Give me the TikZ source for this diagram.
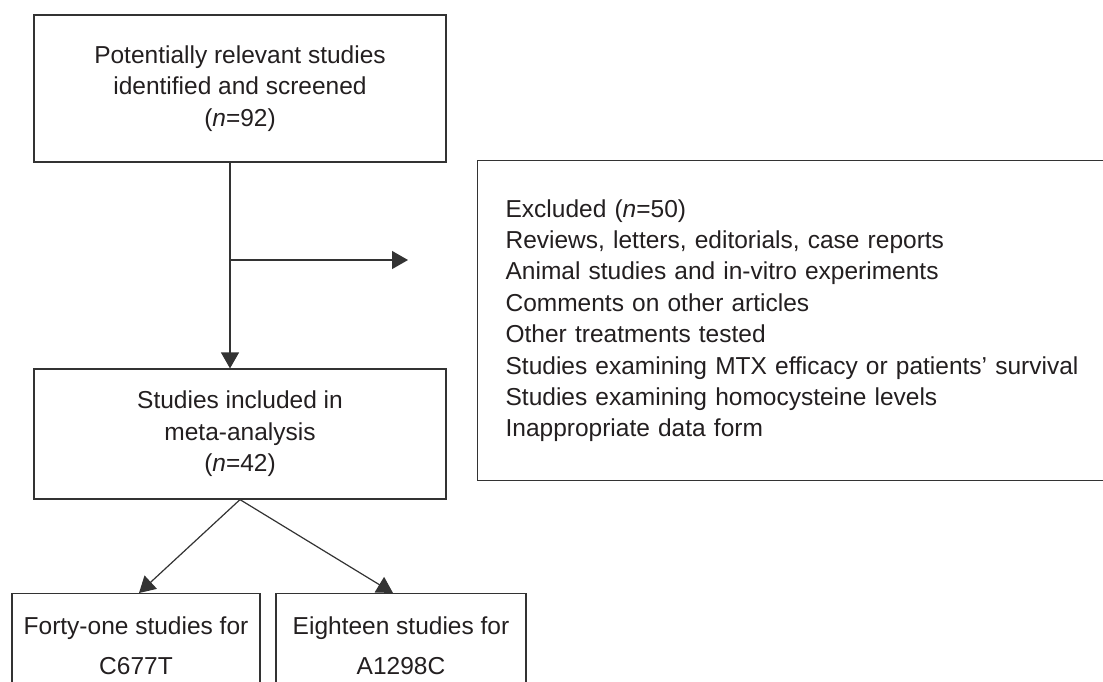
\documentclass[tikz,border=0pt]{standalone}
\usepackage{fontspec}
\setmainfont{Liberation Sans}
\usetikzlibrary{arrows.meta}
\definecolor{ink}{HTML}{231F20}
\definecolor{linec}{HTML}{333333}
\begin{document}
\begin{tikzpicture}[x=0.5pt,y=-0.5pt,
  box/.style={draw=linec, line width=0.6pt, text=ink, align=center,
    font=\fontsize{12.25pt}{15.7pt}\selectfont, inner sep=0pt},
  arr/.style={draw=linec, line width=0.6pt, -{Triangle[length=8pt,width=9pt]}}]
\clip (0,0) rectangle (1103,681);
\fill[white] (0,0) rectangle (1103,681);
% top box
\node[box, minimum width=206pt, minimum height=73.5pt] (top) at (240,88.5)
  {Potentially relevant studies\\identified and screened\\(\textit{n}=92)};
% excluded box (right border lies beyond the picture)
\node[box, align=left, anchor=north west, text width=300pt, inner xsep=14pt,
  minimum height=160pt] (excl) at (477,160)
  {Excluded (\textit{n}=50)\\
   Reviews, letters, editorials, case reports\\
   Animal studies and in-vitro experiments\\
   Comments on other articles\\
   Other treatments tested\\
   Studies examining MTX efficacy or patients’ survival\\
   Studies examining homocysteine levels\\
   Inappropriate data form};
% middle box
\node[box, minimum width=206pt, minimum height=65pt] (mid) at (240,434)
  {Studies included in\\meta-analysis\\(\textit{n}=42)};
% bottom boxes (bottom edges cut off)
\node[box, anchor=north, minimum width=124pt, minimum height=52pt] (cl) at (136,593)
  {Forty-one studies for\\[4pt]C677T};
\node[box, anchor=north, minimum width=125pt, minimum height=52pt] (cr) at (401,593)
  {Eighteen studies for\\[4pt]A1298C};
% connectors
\draw[arr] ([xshift=-5pt]top.south) -- ([xshift=-5pt]mid.north);
\coordinate (branch) at (229,260);
\coordinate (exarrow) at (408,260);
\draw[arr] (branch) -- (exarrow);
\draw[arr] (mid.south) -- ([xshift=1.5pt]cl.north);
\draw[arr] (mid.south) -- ([xshift=-4pt]cr.north);
\end{tikzpicture}
\end{document}
